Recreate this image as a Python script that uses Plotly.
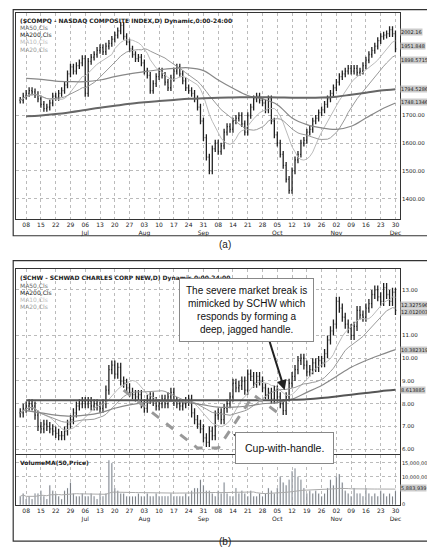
import plotly.graph_objects as go
import numpy as np
import pandas as pd

week_labels = ["08","15","22","29","06<br>Jul","13","20","27","03<br>Aug","10","17","24","31<br>Sep","08","14","21","28","05<br>Oct","12","19","26","02<br>Nov","09","16","23","30<br>Dec"]

nasdaq_close = [1755,1770,1780,1790,1785, 1775,1760,1740,1725,1730, 1745,1770,1765,1780,1790,
 1810,1850,1875,1860,1880, 1890,1905,1780,1895,1910, 1920,1935,1945,1930,1950,
 1960,1975,1990,2005,2025, 1985,1965,1940,1920,1905, 1910,1890,1860,1845,1790,
 1815,1840,1860,1845,1820, 1800,1835,1860,1875,1850, 1825,1800,1790,1780,1760,
 1730,1680,1620,1550,1500, 1580,1600,1570,1590,1640, 1660,1650,1680,1690,1700,
 1670,1640,1700,1730,1760, 1770,1755,1745,1720,1760, 1680,1630,1600,1560,1520,
 1470,1430,1500,1540,1560, 1600,1610,1640,1650,1680, 1690,1710,1720,1740,1760,
 1780,1800,1820,1840,1850, 1860,1870,1860,1870,1855, 1860,1880,1900,1920,1935,
 1950,1970,1985,1990,1995, 2010,1995,1940]
nasdaq_ma50_weekly = [1834,1830,1824,1822,1822,1828,1840,1850,1858,1865,1870,1872,1862,1828,1798,1772,1760,1739,1691,1667,1655,1650,1661,1691,1721,1745]
nasdaq_ma200_weekly = [1697,1700,1705,1712,1720,1728,1735,1742,1748,1752,1756,1760,1762,1764,1765,1766,1766,1765,1764,1764,1765,1768,1775,1782,1790,1795]

schw_close = [7.6,7.8,7.9,8.0,7.9, 7.5,7.0,6.9,7.1,7.0, 6.9,6.8,6.7,6.6,6.6, 6.8,7.1,7.3,7.6,7.9,
 8.0,8.1,8.0,8.1,7.9, 8.0,7.9,7.8,8.0,8.6, 9.5,9.7,9.3,9.6,9.0, 8.9,8.7,8.5,8.4,8.3,
 8.4,8.0,7.8,8.2,8.3, 8.1,7.9,8.0,8.2,8.0, 8.3,8.5,8.1,8.0,7.9, 8.0,8.1,8.2,7.6,7.3,
 7.1,6.9,6.5,6.3,6.8, 6.6,7.5,7.6,7.3,7.8, 8.0,8.3,8.9,8.7,8.8, 9.0,8.6,9.3,9.2,8.9,
 9.2,9.0,8.7,8.4,8.5, 8.2,8.6,8.3,8.0,7.7, 8.3,8.9,9.2,9.5,9.9, 10.0,9.7,9.4,9.5,9.8,
 9.6,9.9,9.8,10.2,10.8, 11.2,11.5,12.5,12.2,11.8, 11.5,11.3,11.0,11.4,12.1,
 11.9,11.8,12.2,12.4,12.8, 13.0,12.7,12.5,13.1,12.8, 12.5,12.9,12.1]
schw_ma50_weekly = [7.7,7.6,7.5,7.45,7.5,7.6,7.8,7.95,8.05,8.1,8.1,8.05,7.95,7.85,7.85,7.9,8.0,8.05,8.2,8.5,8.8,9.2,9.6,9.9,10.15,10.38]
schw_ma200_weekly = [8.15]*18 + [8.17,8.2,8.25,8.32,8.4,8.47,8.55,8.61]
schw_volume_m = [3,4,2,3,2, 4,4,5,3,2, 7,5,4,3,2, 5,6,8,4,3, 3,4,3,3,4, 3,2,4,3,4,
 16,15,6,5,4, 4,3,3,3,3, 4,3,3,4,3, 3,4,3,3,3, 3,4,3,3,3, 3,4,3,5,6,
 6,9,7,5,5, 4,3,5,4,8, 4,3,3,6,4, 5,4,3,5,3, 3,4,3,4,6, 5,4,6,10,8,
 7,9,12,13,10, 9,6,4,5,4, 5,4,3,4,6, 9,7,10,11,8, 5,4,3,6,4,
 4,3,6,4,3, 4,3,5,4,3, 4,3,5]
cup_x = [35,60,67,79,87]
cup_y = [8.6,6.05,6.05,8.38,7.62]

n = len(nasdaq_close)
x = np.arange(n)
week_pos = [2+5*i for i in range(len(week_labels))]

def ohlc(close, pad):
    c = np.array(close, float)
    o = np.concatenate([[c[0]], c[:-1]])
    return o, np.maximum(o, c)+pad, np.minimum(o, c)-pad, c

fig = go.Figure()
XD = [0.018, 0.903]
dom_a = [0.6145, 0.991]; dom_p = [0.185, 0.522]; dom_v = [0.092, 0.182]

o,h,l,c = ohlc(nasdaq_close, 12)
fig.add_trace(go.Ohlc(x=x, open=o, high=h, low=l, close=c, xaxis="x", yaxis="y",
    increasing_line_color="#222", decreasing_line_color="#222", line_width=1.3, tickwidth=0.3, showlegend=False))
s = pd.Series(nasdaq_close)
fig.add_trace(go.Scatter(x=x, y=s.rolling(10, min_periods=1).mean(), mode="lines", line=dict(color="#bbb", width=1), xaxis="x", yaxis="y"))
fig.add_trace(go.Scatter(x=x, y=s.rolling(20, min_periods=1).mean(), mode="lines", line=dict(color="#999", width=1), xaxis="x", yaxis="y"))
fig.add_trace(go.Scatter(x=week_pos, y=nasdaq_ma50_weekly, mode="lines", line=dict(color="#888", width=1.2, shape="spline"), xaxis="x", yaxis="y"))
fig.add_trace(go.Scatter(x=week_pos, y=nasdaq_ma200_weekly, mode="lines", line=dict(color="#666", width=2, shape="spline"), xaxis="x", yaxis="y"))

o,h,l,c = ohlc(schw_close, 0.2)
fig.add_trace(go.Ohlc(x=x, open=o, high=h, low=l, close=c, xaxis="x2", yaxis="y2",
    increasing_line_color="#222", decreasing_line_color="#222", line_width=1.3, tickwidth=0.3, showlegend=False))
s2 = pd.Series(schw_close)
fig.add_trace(go.Scatter(x=x, y=s2.rolling(10, min_periods=1).mean(), mode="lines", line=dict(color="#bbb", width=1), xaxis="x2", yaxis="y2"))
fig.add_trace(go.Scatter(x=x, y=s2.rolling(20, min_periods=1).mean(), mode="lines", line=dict(color="#999", width=1), xaxis="x2", yaxis="y2"))
fig.add_trace(go.Scatter(x=week_pos, y=schw_ma50_weekly, mode="lines", line=dict(color="#888", width=1.2, shape="spline"), xaxis="x2", yaxis="y2"))
fig.add_trace(go.Scatter(x=week_pos, y=schw_ma200_weekly, mode="lines", line=dict(color="#555", width=2, shape="spline"), xaxis="x2", yaxis="y2"))
fig.add_trace(go.Scatter(x=cup_x, y=cup_y, mode="lines", line=dict(color="#999", width=3, dash="dash"), xaxis="x2", yaxis="y2"))
fig.add_trace(go.Bar(x=x, y=np.array(schw_volume_m)*1e6, marker_color="#333", width=0.35, xaxis="x3", yaxis="y3"))
fig.add_trace(go.Scatter(x=x, y=pd.Series(schw_volume_m).rolling(50, min_periods=1).mean()*1e6, mode="lines", line=dict(color="#aaa", width=1), xaxis="x3", yaxis="y3"))

ax = dict(range=[-1.5, n+0.5], showgrid=True, gridcolor="#bbb", griddash="dot", gridwidth=1,
          tickvals=week_pos, ticktext=week_labels, tickfont=dict(size=6, family="DejaVu Sans", color="#222"),
          rangeslider=dict(visible=False), showline=True, linecolor="#333", mirror=True, ticks="", zeroline=False)
ay = dict(side="right", showgrid=True, gridcolor="#bbb", griddash="dot", tickfont=dict(size=5.5, family="DejaVu Sans", color="#222"),
          showline=True, linecolor="#333", mirror=True, zeroline=False, ticks="")
fig.update_layout(
    width=435, height=550, margin=dict(l=0, r=0, t=0, b=0), showlegend=False,
    paper_bgcolor="white", plot_bgcolor="white",
    xaxis=dict(ax, domain=XD, anchor="y"),
    yaxis=dict(ay, domain=dom_a, range=[1327, 2070], tickvals=[1400,1500,1600,1700], ticktext=["1400.00","1500.00","1600.00","1700.00"], anchor="x"),
    xaxis2=dict(ax, domain=XD, anchor="y2", showticklabels=False),
    yaxis2=dict(ay, domain=dom_p, range=[5.8, 13.9], tickvals=[6,7,8,9,10,11,13], ticktext=["6.00","7.00","8.00","9.00","10.00","11.00","13.00"], anchor="x2"),
    xaxis3=dict(ax, domain=XD, anchor="y3"),
    yaxis3=dict(ay, domain=dom_v, range=[0, 17.7e6], tickvals=[0,10e6,15e6], ticktext=["0","10,000,000","15,000,000"], anchor="x3", tickfont=dict(size=5, family="DejaVu Sans", color="#222")),
)
tf = dict(size=6, family="DejaVu Sans", color="#222")
def ann(text, xx, yy, xref="paper", yref="paper", **k):
    fig.add_annotation(text=text, x=xx, y=yy, xref=xref, yref=yref, showarrow=False, **k)
ann("<b>($COMPQ - NASDAQ COMPOSITE INDEX,D) Dynamic,0:00-24:00</b>", 0.022, 0.988, xanchor="left", yanchor="top", font=tf)
for i,(t,col) in enumerate([("MA50,Cls","#666"),("MA200,Cls","#222"),("MA10,Cls","#bbb"),("MA20,Cls","#999")]):
    ann(t, 0.022, 0.974-i*0.013, xanchor="left", yanchor="top", font=dict(size=6, family="DejaVu Sans", color=col))
    ann(t, 0.022, 0.503-i*0.013, xanchor="left", yanchor="top", font=dict(size=6, family="DejaVu Sans", color=col))
ann("<b>(SCHW - SCHWAD CHARLES CORP NEW,D) Dynamic,0:00-24:00</b>", 0.022, 0.518, xanchor="left", yanchor="top", font=tf)
ann("<b>VolumeMA(50,Price)</b>", 0.022, 0.18, xanchor="left", yanchor="top", font=tf)
lf = dict(size=5, family="DejaVu Sans", color="#222")
for v,t in [(2002.16,"2002.16"),(1951.848,"1951.848"),(1898.5715,"1898.5715"),(1794.5286,"1794.5286"),(1748.1346,"1748.1346")]:
    ann(t, 0.904, v, yref="y", xanchor="left", font=lf, bgcolor="#ccc", borderpad=0)
for v,t in [(12.327596,"12.327596"),(12.012003,"12.012003"),(10.382319,"10.382319"),(8.613885,"8.613885")]:
    ann(t, 0.904, v, yref="y2", xanchor="left", font=lf, bgcolor="#ccc", borderpad=0)
ann("5,883,939", 0.904, 5.9e6, yref="y3", xanchor="left", font=lf, bgcolor="#ccc", borderpad=0)
ann("(a)", 0.5, 1-238/550, font=dict(size=10, family="Liberation Sans", color="#222"))
ann("(b)", 0.5, 1-544/550, font=dict(size=10, family="Liberation Sans", color="#222"))
fig.add_shape(type="rect", xref="paper", yref="paper", x0=0.012, x1=0.992, y0=1-229/550, y1=0.997, line=dict(color="#333", width=1.2))
fig.add_shape(type="rect", xref="paper", yref="paper", x0=0.012, x1=0.992, y0=1-536/550, y1=1-254/550, line=dict(color="#333", width=1.2))
fig.add_annotation(x=89.5, y=8.6, xref="x2", yref="y2", ax=84, ay=10.9, axref="x2", ayref="y2",
    text="", showarrow=True, arrowhead=2, arrowsize=1, arrowwidth=2, arrowcolor="#222")
fig.add_annotation(x=72, y=6.65, xref="x2", yref="y2", ax=88, ay=6.1, axref="x2", ayref="y2",
    text="", showarrow=True, arrowhead=2, arrowsize=1, arrowwidth=2, arrowcolor="#222")
ann("The severe market break is<br>mimicked by SCHW which<br>responds by forming a<br>deep, jagged handle.", 0.549, 1-304/550,
    font=dict(size=10, family="Liberation Sans", color="#111"), bgcolor="white", bordercolor="#888", borderwidth=1, borderpad=6)
ann("Cup-with-handle.", 0.75, 1-458/550, font=dict(size=10.5, family="Liberation Sans", color="#111"),
    bgcolor="white", bordercolor="#888", borderwidth=1, borderpad=9)
fig.write_html("out.html")
